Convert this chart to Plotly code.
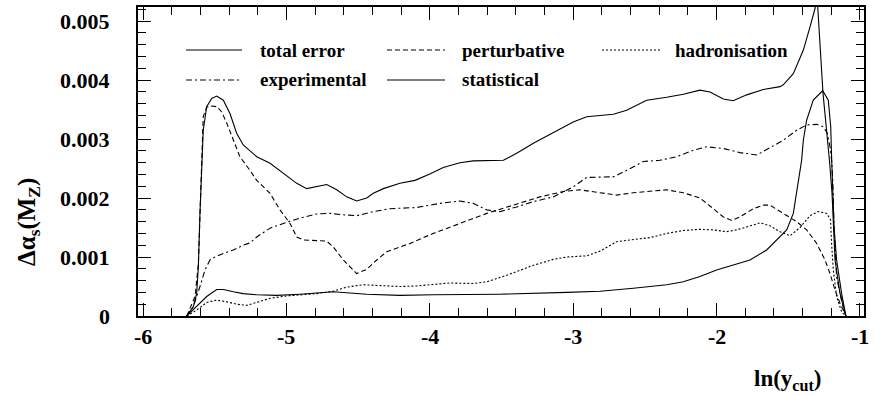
import plotly.graph_objects as go

# ---------------- data ----------------
total_x = [-5.695, -5.649, -5.626, -5.614, -5.603, -5.591, -5.580, -5.556, -5.521, -5.486,
           -5.440, -5.393, -5.347, -5.301, -5.254, -5.207, -5.114, -5.022, -4.928, -4.858,
           -4.789, -4.719, -4.649, -4.580, -4.510, -4.440, -4.394, -4.324, -4.208, -4.103,
           -4.000, -3.906, -3.790, -3.697, -3.487, -3.394, -3.278, -3.139, -3.000, -2.906,
           -2.813, -2.720, -2.627, -2.488, -2.348, -2.232, -2.116, -2.046, -1.953, -1.884,
           -1.790, -1.674, -1.558, -1.535, -1.465, -1.395, -1.349, -1.314, -1.300,
           -1.258, -1.213, -1.195, -1.174, -1.140, -1.098]
total_y = [0.0, 0.00016, 0.00038, 0.00084, 0.00174, 0.00259, 0.00315, 0.00355, 0.00369, 0.00373,
           0.00366, 0.00343, 0.00310, 0.00290, 0.00280, 0.00270, 0.00259, 0.00242, 0.00225, 0.00216,
           0.00219, 0.00223, 0.00214, 0.00202, 0.00195, 0.00200, 0.00208, 0.00216, 0.00225, 0.00230,
           0.00241, 0.00252, 0.00260, 0.00263, 0.00264, 0.00276, 0.00293, 0.00311, 0.00329, 0.00338,
           0.00340, 0.00342, 0.00349, 0.00366, 0.00371, 0.00376, 0.00383, 0.00380, 0.00368, 0.00365,
           0.00375, 0.00384, 0.00389, 0.00392, 0.00411, 0.00451, 0.00490, 0.00521, 0.00545,
           0.00378, 0.00264, 0.00208, 0.00095, 0.00039, 0.0]

stat_x = [-5.695, -5.626, -5.556, -5.486, -5.440, -5.370, -5.301, -5.207, -5.068, -4.905,
          -4.673, -4.440, -4.208, -3.976, -3.510, -3.045, -2.813, -2.581, -2.348, -2.232,
          -2.116, -2.000, -1.884, -1.767, -1.651, -1.581, -1.511, -1.465, -1.430, -1.407,
          -1.395, -1.372, -1.326, -1.260, -1.221, -1.204, -1.198, -1.191, -1.181, -1.163,
          -1.128, -1.098]
stat_y = [0.0, 0.00016, 0.00033, 0.00045, 0.00045, 0.00041, 0.00038, 0.00036, 0.00035, 0.00037,
          0.00041, 0.00037, 0.00035, 0.00036, 0.00037, 0.00040, 0.00042, 0.00047, 0.00053, 0.00058,
          0.00067, 0.00078, 0.00086, 0.00095, 0.00112, 0.00129, 0.00146, 0.00174, 0.00230, 0.00264,
          0.00298, 0.00332, 0.00366, 0.00382, 0.00366, 0.00321, 0.00270, 0.00208, 0.00151, 0.00095,
          0.00038, 0.0]

pert_x = [-5.695, -5.637, -5.614, -5.603, -5.591, -5.580, -5.556, -5.521, -5.486, -5.451,
          -5.416, -5.370, -5.324, -5.254, -5.207, -5.114, -5.045, -4.975, -4.928, -4.882,
          -4.789, -4.719, -4.673, -4.603, -4.510, -4.440, -4.370, -4.300, -4.255, -4.138,
          -3.976, -3.790, -3.603, -3.418, -3.232, -3.069, -2.953, -2.813, -2.697, -2.581,
          -2.465, -2.348, -2.232, -2.116, -2.023, -1.953, -1.895, -1.837, -1.744, -1.674,
          -1.628, -1.535, -1.442, -1.372, -1.302, -1.244, -1.209, -1.174, -1.140, -1.098]
pert_y = [0.0, 0.00033, 0.00089, 0.00174, 0.00287, 0.00338, 0.00354, 0.00356, 0.00355, 0.00346,
          0.00327, 0.00298, 0.00270, 0.00247, 0.00230, 0.00208, 0.00180, 0.00157, 0.00134, 0.00129,
          0.00128, 0.00127, 0.00117, 0.00095, 0.00072, 0.00079, 0.00095, 0.00109, 0.00113, 0.00123,
          0.00140, 0.00157, 0.00174, 0.00188, 0.00202, 0.00211, 0.00214, 0.00209, 0.00205, 0.00209,
          0.00212, 0.00214, 0.00209, 0.00200, 0.00182, 0.00168, 0.00162, 0.00168, 0.00182, 0.00188,
          0.00188, 0.00174, 0.00160, 0.00146, 0.00123, 0.00095, 0.00072, 0.00044, 0.00022, 0.0]

exp_x = [-5.695, -5.649, -5.603, -5.568, -5.533, -5.498, -5.440, -5.370, -5.301, -5.254,
         -5.207, -5.114, -4.998, -4.905, -4.789, -4.696, -4.626, -4.510, -4.394, -4.278,
         -4.092, -3.929, -3.790, -3.697, -3.603, -3.510, -3.394, -3.278, -3.139, -3.000,
         -2.906, -2.813, -2.720, -2.627, -2.511, -2.395, -2.278, -2.163, -2.070, -1.953,
         -1.837, -1.720, -1.628, -1.535, -1.442, -1.372, -1.302, -1.256, -1.228, -1.209,
         -1.198, -1.190, -1.181, -1.163, -1.119, -1.098]
exp_y = [0.0, 0.00016, 0.00050, 0.00078, 0.00095, 0.00100, 0.00106, 0.00112, 0.00120, 0.00124,
         0.00134, 0.00149, 0.00159, 0.00166, 0.00173, 0.00174, 0.00172, 0.00170, 0.00177, 0.00182,
         0.00184, 0.00191, 0.00195, 0.00191, 0.00180, 0.00177, 0.00185, 0.00194, 0.00202, 0.00219,
         0.00235, 0.00236, 0.00236, 0.00247, 0.00262, 0.00264, 0.00270, 0.00281, 0.00287, 0.00284,
         0.00277, 0.00273, 0.00285, 0.00298, 0.00315, 0.00324, 0.00325, 0.00321, 0.00310, 0.00287,
         0.00264, 0.00230, 0.00151, 0.00066, 0.00015, 0.0]

had_x = [-5.695, -5.626, -5.556, -5.486, -5.416, -5.347, -5.277, -5.207, -5.114, -4.998,
         -4.905, -4.789, -4.673, -4.580, -4.464, -4.324, -4.208, -4.092, -3.976, -3.859,
         -3.697, -3.603, -3.464, -3.278, -3.139, -3.045, -2.906, -2.813, -2.697, -2.581,
         -2.465, -2.348, -2.232, -2.116, -2.023, -1.930, -1.860, -1.790, -1.697, -1.628,
         -1.558, -1.488, -1.418, -1.349, -1.291, -1.232, -1.205, -1.198, -1.186, -1.163,
         -1.128, -1.098]
had_y = [0.0, 0.00010, 0.00023, 0.00027, 0.00024, 0.00020, 0.00018, 0.00023, 0.00030, 0.00034,
         0.00036, 0.00038, 0.00042, 0.00049, 0.00053, 0.00051, 0.00050, 0.00051, 0.00054, 0.00056,
         0.00055, 0.00058, 0.00069, 0.00086, 0.00096, 0.00100, 0.00102, 0.00110, 0.00126, 0.00130,
         0.00133, 0.00140, 0.00145, 0.00147, 0.00146, 0.00143, 0.00146, 0.00151, 0.00158, 0.00153,
         0.00143, 0.00136, 0.00150, 0.00170, 0.00177, 0.00174, 0.00163, 0.00123, 0.00078, 0.00033,
         0.00007, 0.0]

x_tickvals = [-6, -5, -4, -3, -2, -1]
x_ticktext = ["-6", "-5", "-4", "-3", "-2", "-1"]
y_tickvals = [0, 0.001, 0.002, 0.003, 0.004, 0.005]
y_ticktext = ["0", "0.001", "0.002", "0.003", "0.004", "0.005"]

series = [
    ("total error", total_x, total_y, "solid"),
    ("perturbative", pert_x, pert_y, "5px,3px"),
    ("hadronisation", had_x, had_y, "2px,2px"),
    ("experimental", exp_x, exp_y, "6px,3px,2px,3px"),
    ("statistical", stat_x, stat_y, "solid"),
]

# ---------------- figure ----------------
W, H = 879, 396
ML, MR, MT, MB = 138, 15, 7, 80
PW, PH = W - ML - MR, H - MT - MB

def px2paper(px, py):
    return (px - ML) / PW, (H - MB - py) / PH

FONT = "Liberation Serif"
fig = go.Figure()
for name, xs, ys, dash in series:
    fig.add_trace(go.Scatter(x=xs, y=ys, mode="lines", name=name, showlegend=False,
                             line=dict(color="black", width=1.1, dash=dash)))

# legend, laid out as in the reference (3 columns, 2 rows)
leg_cols = [(186, 242, 258), (387, 445, 460), (602, 660, 673)]
leg_rows = [50, 80]
for i, (name, xs, ys, dash) in enumerate(series):
    r, c = divmod(i, 3)
    x0, x1, xt = leg_cols[c]
    py = leg_rows[r]
    a0, b0 = px2paper(x0, py)
    a1, _ = px2paper(x1, py)
    at, _ = px2paper(xt, py)
    fig.add_shape(type="line", xref="paper", yref="paper", x0=a0, x1=a1, y0=b0, y1=b0,
                  line=dict(color="black", width=1.1, dash=dash))
    fig.add_annotation(xref="paper", yref="paper", x=at, y=b0, text="<b>" + name + "</b>",
                       showarrow=False, xanchor="left", yanchor="middle",
                       font=dict(family=FONT, size=19, color="black"))

# tick labels placed through the axes' own scales
for v, t in zip(x_tickvals, x_ticktext):
    fig.add_annotation(xref="x", yref="paper", x=v, y=0, yshift=-20, text="<b>" + t + "</b>",
                       showarrow=False, xanchor="center", yanchor="middle",
                       font=dict(family=FONT, size=22, color="black"))
for v, t in zip(y_tickvals, y_ticktext):
    fig.add_annotation(xref="paper", yref="y", x=0, y=v, xshift=-26, text="<b>" + t + "</b>",
                       showarrow=False, xanchor="right", yanchor="middle",
                       font=dict(family=FONT, size=22, color="black"))

axis_common = dict(showline=True, linecolor="black", linewidth=1.5, mirror="allticks",
                   ticks="inside", tickcolor="black", tickwidth=1.2, ticklen=13,
                   showgrid=False, zeroline=False, showticklabels=False, tickmode="linear")

fig.update_xaxes(range=[-6.035, -0.972], tick0=-6, dtick=1,
                 minor=dict(dtick=0.2, ticks="inside", ticklen=8, tickcolor="black", tickwidth=1.2),
                 **axis_common)
fig.update_yaxes(range=[0, 0.00524], tick0=0, dtick=0.001,
                 minor=dict(dtick=0.0002, ticks="inside", ticklen=8, tickcolor="black", tickwidth=1.2),
                 **axis_common)

ax, ay = px2paper(28, 222)
fig.add_annotation(xref="paper", yref="paper", x=ax, y=ay, textangle=-90, showarrow=False,
                   text="<b>Δα<sub>s</sub>(M<sub>Z</sub>)</b>", xanchor="center", yanchor="middle",
                   font=dict(family=FONT, size=25, color="black"))
bx, by = px2paper(787, 380)
fig.add_annotation(xref="paper", yref="paper", x=bx, y=by, showarrow=False,
                   text="<b>ln(y<sub>cut</sub>)</b>", xanchor="center", yanchor="middle",
                   font=dict(family=FONT, size=23, color="black"))

fig.update_layout(template="none", width=W, height=H, margin=dict(l=ML, r=MR, t=MT, b=MB),
                  font=dict(family=FONT, color="black"),
                  paper_bgcolor="white", plot_bgcolor="white", showlegend=False)

fig.write_html("out.html")
